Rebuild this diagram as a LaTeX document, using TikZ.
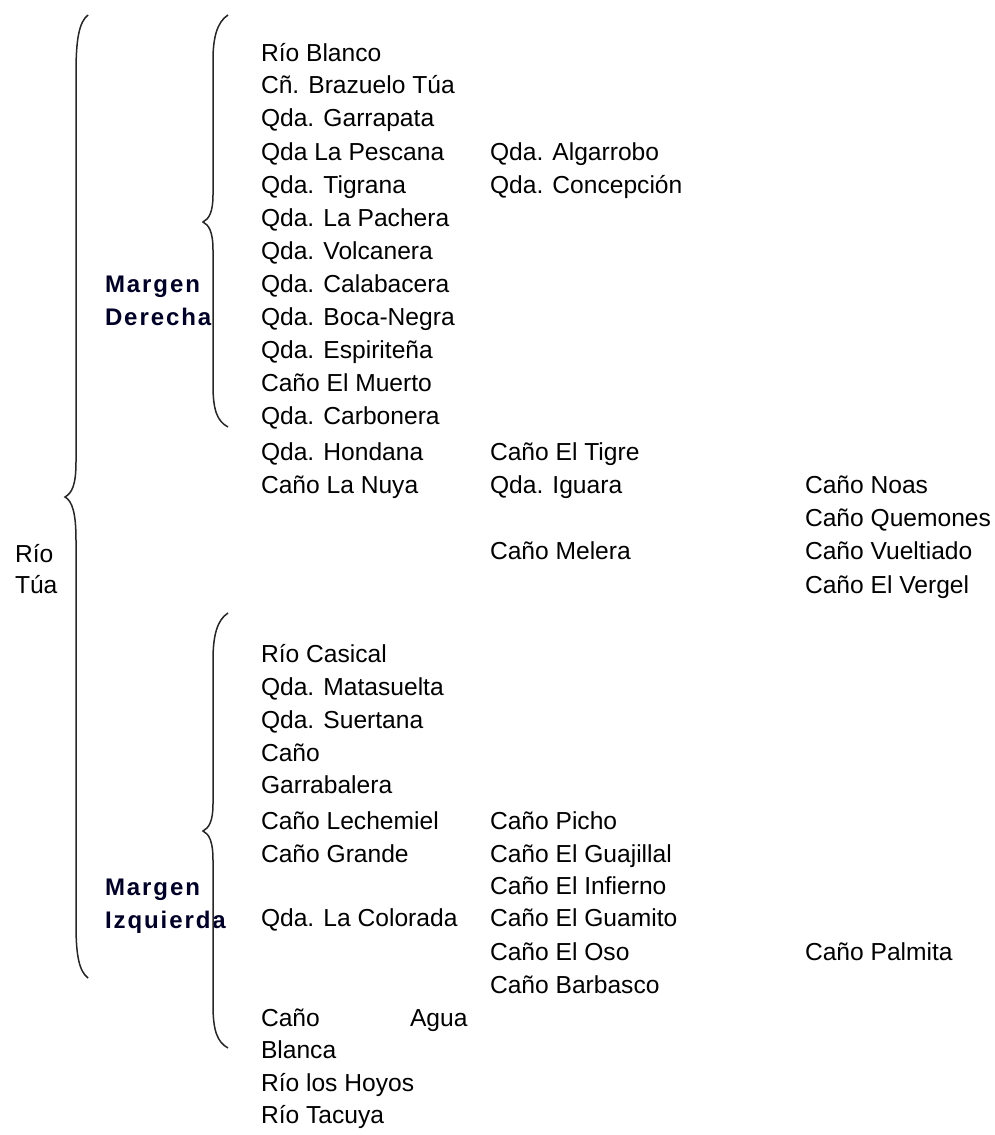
\documentclass[tikz,border=0pt]{standalone}
\usepackage{fontspec}
\setmainfont{Liberation Sans}
\newfontfamily\boldspaced[LetterSpace=8]{Liberation Sans Bold}
\begin{document}
\begin{tikzpicture}[x=1pt,y=-1pt,
  item/.style={anchor=base west, inner sep=0pt, outer sep=0pt, font=\fontsize{24.6}{33}\selectfont, text=black},
  head/.style={anchor=base west, inner sep=0pt, outer sep=0pt, font=\fontsize{24}{33}\boldspaced, text=black!85!blue},
  bracepath/.style={draw=black!85, line width=1.5pt}]
\useasboundingbox (0,0) rectangle (994,1135);

% root
\node[item] (rio) at (15,562) {Río};
\node[item] (tua) at (15,593) {Túa};

% outer brace
\coordinate (ob1) at (88,15);
\coordinate (obc) at (65,497);
\coordinate (ob2) at (88,978);
\draw[bracepath] (ob1) .. controls (79,22) and (76,40) .. (76,72) -- (76,462)
  .. controls (76,485) and (72,493) .. (obc)
  .. controls (72,501) and (76,512) .. (76,540) -- (76,925)
  .. controls (76,955) and (79,971) .. (ob2);

% Margen Derecha
\node[head] (md1) at (105,292) {Margen};
\node[head] (md2) at (105,325) {Derecha};
\coordinate (db1) at (228,15);
\coordinate (dbc) at (203,222);
\coordinate (db2) at (228,427);
\draw[bracepath] (db1) .. controls (217,22) and (213,38) .. (213,60) -- (213,195)
  .. controls (213,212) and (209,219) .. (dbc)
  .. controls (209,225) and (213,232) .. (213,250) -- (213,385)
  .. controls (213,410) and (217,421) .. (db2);

% Margen Izquierda
\node[head] (mi1) at (105,895) {Margen};
\node[head] (mi2) at (105,928) {Izquierda};
\coordinate (ib1) at (228,613);
\coordinate (ibc) at (203,831);
\coordinate (ib2) at (228,1048);
\draw[bracepath] (ib1) .. controls (217,620) and (213,636) .. (213,660) -- (213,804)
  .. controls (213,821) and (209,828) .. (ibc)
  .. controls (209,834) and (213,841) .. (213,860) -- (213,1005)
  .. controls (213,1030) and (217,1042) .. (ib2);

% Derecha column 1
\node[item] (d01) at (261,61) {Río Blanco};
\node[item] (d02) at (261,93) {Cñ. Brazuelo Túa};
\node[item] (d03) at (261,126) {Qda. Garrapata};
\node[item] (d04) at (261,160) {Qda La Pescana};
\node[item] (d05) at (261,193) {Qda. Tigrana};
\node[item] (d06) at (261,226) {Qda. La Pachera};
\node[item] (d07) at (261,259) {Qda. Volcanera};
\node[item] (d08) at (261,292) {Qda. Calabacera};
\node[item] (d09) at (261,325) {Qda. Boca-Negra};
\node[item] (d10) at (261,358) {Qda. Espiriteña};
\node[item] (d11) at (261,391) {Caño El Muerto};
\node[item] (d12) at (261,424) {Qda. Carbonera};
\node[item] (d13) at (261,460) {Qda. Hondana};
\node[item] (d14) at (261,493) {Caño La Nuya};
% Derecha column 2
\node[item] (e01) at (490,160) {Qda. Algarrobo};
\node[item] (e02) at (490,193) {Qda. Concepción};
\node[item] (e03) at (490,460) {Caño El Tigre};
\node[item] (e04) at (490,493) {Qda. Iguara};
\node[item] (e05) at (490,559) {Caño Melera};
% Derecha column 3
\node[item] (f01) at (805,493) {Caño Noas};
\node[item] (f02) at (805,526) {Caño Quemones};
\node[item] (f03) at (805,559) {Caño Vueltiado};
\node[item] (f04) at (805,593) {Caño El Vergel};

% Izquierda column 1
\node[item] (i01) at (261,662) {Río Casical};
\node[item] (i02) at (261,695) {Qda. Matasuelta};
\node[item] (i03) at (261,728) {Qda. Suertana};
\node[item] (i04) at (261,761) {Caño};
\node[item] (i05) at (261,793) {Garrabalera};
\node[item] (i06) at (261,829) {Caño Lechemiel};
\node[item] (i07) at (261,862) {Caño Grande};
\node[item] (i08) at (261,926) {Qda. La Colorada};
\node[item] (i09) at (261,1026) {Caño};
\node[item] (i09b) at (410,1026) {Agua};
\node[item] (i10) at (261,1058) {Blanca};
\node[item] (i11) at (261,1091) {Río los Hoyos};
\node[item] (i12) at (261,1123) {Río Tacuya};
% Izquierda column 2
\node[item] (j01) at (490,829) {Caño Picho};
\node[item] (j02) at (490,862) {Caño El Guajillal};
\node[item] (j03) at (490,894) {Caño El Infierno};
\node[item] (j04) at (490,926) {Caño El Guamito};
\node[item] (j05) at (490,960) {Caño El Oso};
\node[item] (j06) at (490,993) {Caño Barbasco};
% Izquierda column 3
\node[item] (k01) at (805,960) {Caño Palmita};
\end{tikzpicture}
\end{document}
